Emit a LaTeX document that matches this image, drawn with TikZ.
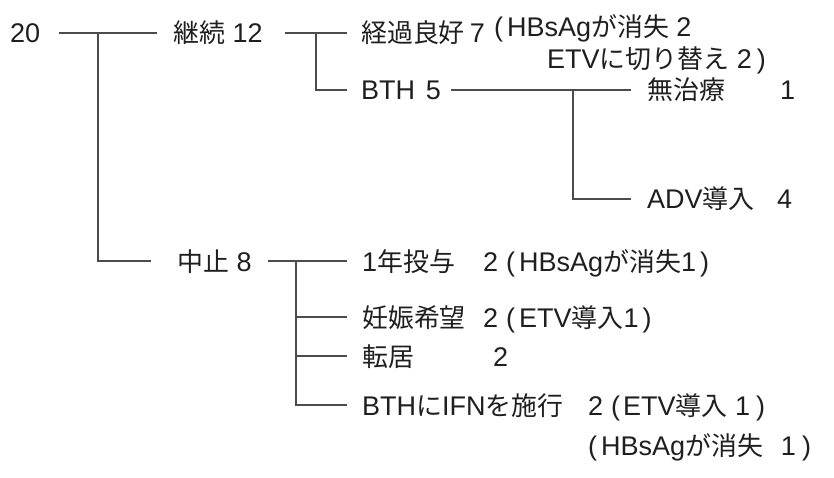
\documentclass[tikz,border=0pt]{standalone}
\usepackage{fontspec}
\setmainfont{Liberation Sans}
\newfontfamily\jp[Scale=0.96]{Noto Sans CJK JP}
\begin{document}
\begin{tikzpicture}[x=1pt,y=-1pt,
  lbl/.style={anchor=west,inner sep=0pt,text height=23pt,text depth=3pt,
    font=\fontsize{27}{30}\selectfont,text=black!88},
  ln/.style={line width=1.5pt,draw=black!70}]
\useasboundingbox (0,0) rectangle (834,478);
% level 0 / 1
\node[lbl] (n20) at (10,33) {20};
\node[lbl] (k12) at (173,33) {{\jp 継続} 12};
\node[lbl] (ch8) at (177,261) {{\jp 中止} 8};
% continued branch
\node[lbl] (kr7) at (361,33) {{\jp 経過良好}\hspace{5pt}7};
\node[lbl] (nt1) at (494,27) {(\hspace{4pt}HBsAg{\jp が消失} 2};
\node[lbl] (nt2) at (547,59) {ETV{\jp に切り替え} 2\hspace{5pt})};
\node[lbl] (bth5) at (361,90) {BTH\hspace{0.4em}5};
\node[lbl] (mu) at (647,90) {\jp 無治療};
\node[lbl] (mu1) at (780,90) {1};
\node[lbl] (adv) at (647,199) {ADV{\jp 導入}};
\node[lbl] (adv4) at (777,199) {4};
% stopped branch
\node[lbl] (c1) at (362,261) {1{\jp 年投与}};
\node[lbl] (c1x) at (483,261) {2\hspace{8pt}(\hspace{4pt}HBsAg{\jp が消失}1\hspace{4pt})};
\node[lbl] (c2) at (362,317) {\jp 妊娠希望};
\node[lbl] (c2x) at (483,317) {2\hspace{8pt}(\hspace{4pt}ETV{\jp 導入}1\hspace{4pt})};
\node[lbl] (c3) at (362,356) {\jp 転居};
\node[lbl] (c3n) at (493,356) {2};
\node[lbl] (c4) at (362,405) {BTH{\jp に}IFN{\jp を施行}};
\node[lbl] (c4x) at (588,405) {2\hspace{8pt}(\hspace{3pt}ETV{\jp 導入} 1\hspace{6pt})};
\node[lbl] (c4y) at (588,445) {(\hspace{4pt}HBsAg{\jp が消失}\hspace{18pt}1\hspace{6pt})};
% junctions
\coordinate (j0) at (98,33);
\coordinate (j1) at (316,33);
\coordinate (j2) at (573,90);
\coordinate (j3) at (296,261);
% connectors
\draw[ln] ([xshift=19pt]n20.east) -- ([xshift=-16pt]k12.west);
\draw[ln] (j0) |- ([xshift=-26pt]ch8.west);
\draw[ln] ([xshift=22pt]k12.east) -- ([xshift=-14pt]kr7.west);
\draw[ln] (j1) |- ([xshift=-14pt]bth5.west);
\draw[ln] ([xshift=10pt]bth5.east) -- ([xshift=-16pt]mu.west);
\draw[ln] (j2) |- ([xshift=-16pt]adv.west);
\draw[ln] ([xshift=16pt]ch8.east) -- ([xshift=-15pt]c1.west);
\draw[ln] (j3) |- ([xshift=-15pt]c2.west);
\draw[ln] (j3) |- ([xshift=-15pt]c3.west);
\draw[ln] (j3) |- ([xshift=-15pt]c4.west);
\end{tikzpicture}
\end{document}
